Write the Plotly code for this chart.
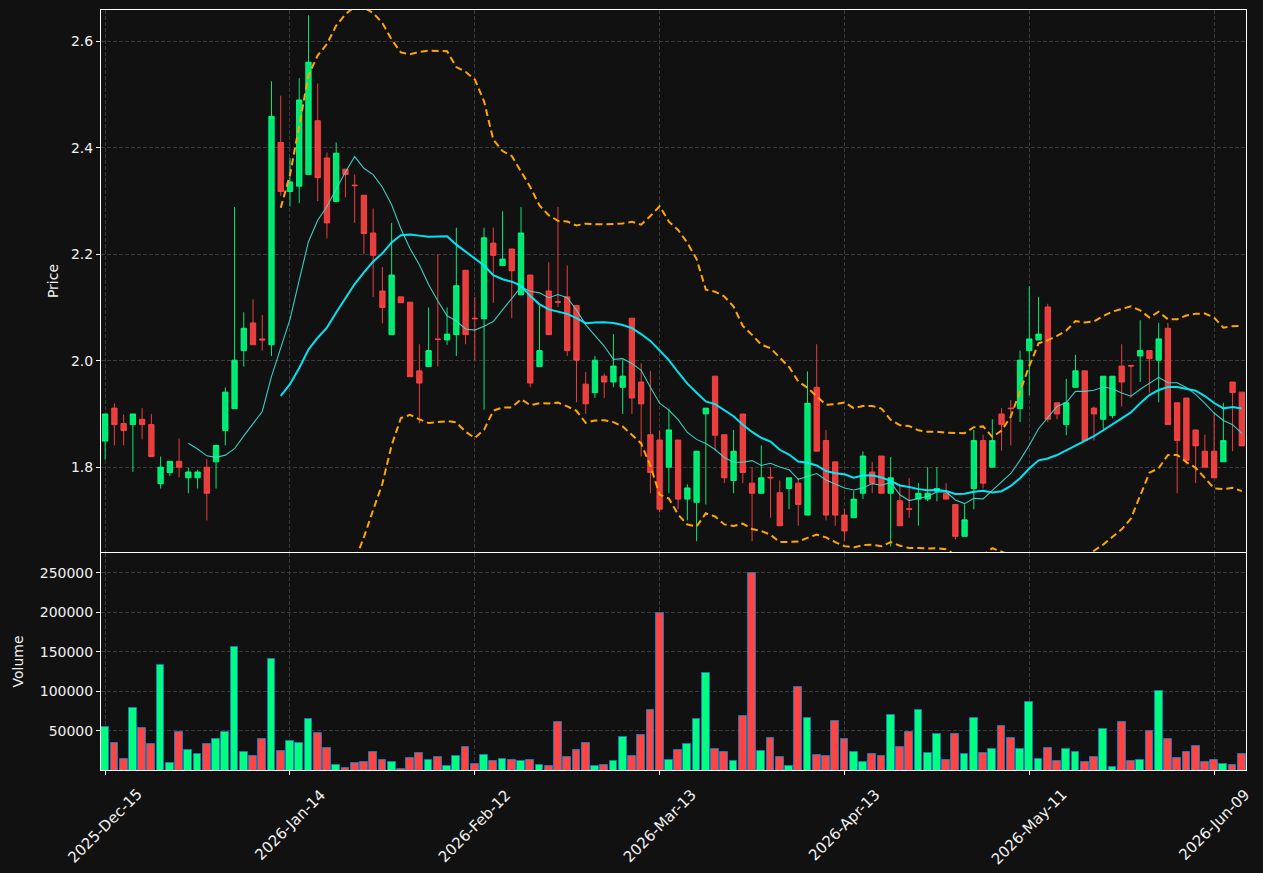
import plotly.graph_objects as go
import pandas as pd

# ---------------- data ----------------
opens = [1.849, 1.911, 1.882, 1.880, 1.890, 1.880, 1.769, 1.790, 1.811, 1.780,
         1.780, 1.800, 1.810, 1.869, 1.910, 2.019, 2.071, 2.041, 2.030, 2.410,
         2.318, 2.328, 2.350, 2.451, 2.381, 2.299, 2.360, 2.330, 2.311, 2.240,
         2.131, 2.049, 2.120, 2.110, 1.981, 1.989, 2.041, 2.039, 2.049, 2.170,
         2.080, 2.079, 2.221, 2.179, 2.210, 2.124, 2.161, 1.989, 2.131, 2.111,
         2.120, 2.104, 1.956, 1.940, 1.971, 1.960, 1.950, 2.080, 1.960, 1.861,
         1.851, 1.800, 1.851, 1.740, 1.734, 1.900, 1.971, 1.861, 1.775, 1.900,
         1.770, 1.751, 1.781, 1.752, 1.760, 1.770, 1.710, 1.950, 1.850, 1.810,
         1.710, 1.705, 1.751, 1.791, 1.821, 1.751, 1.737, 1.722, 1.740, 1.740,
         1.755, 1.751, 1.730, 1.670, 1.760, 1.850, 1.800, 1.900, 1.911, 1.910,
         2.019, 2.039, 2.101, 1.921, 1.880, 1.950, 1.981, 1.911, 1.890, 1.897,
         1.990, 1.991, 2.009, 2.019, 2.001, 2.061, 1.921, 1.930, 1.870, 1.830,
         1.830, 1.810, 1.960, 1.941]
highs = [1.900, 1.920, 1.899, 1.900, 1.911, 1.900, 1.820, 1.811, 1.854, 1.799,
         1.795, 1.815, 1.841, 1.950, 2.289, 2.091, 2.115, 2.086, 2.525, 2.498,
         2.381, 2.531, 2.649, 2.521, 2.391, 2.410, 2.360, 2.350, 2.311, 2.286,
         2.176, 2.259, 2.120, 2.110, 2.031, 2.100, 2.200, 2.100, 2.250, 2.170,
         2.120, 2.250, 2.250, 2.281, 2.210, 2.289, 2.161, 2.104, 2.185, 2.289,
         2.179, 2.104, 1.979, 2.009, 1.976, 2.050, 2.001, 2.080, 1.995, 1.981,
         1.869, 1.910, 1.851, 1.768, 1.830, 1.911, 1.971, 1.861, 1.870, 1.900,
         1.800, 1.841, 1.800, 1.775, 1.780, 1.780, 1.980, 2.031, 1.870, 1.810,
         1.721, 1.755, 1.830, 1.810, 1.821, 1.819, 1.765, 1.780, 1.770, 1.800,
         1.800, 1.770, 1.730, 1.730, 1.870, 1.861, 1.890, 1.911, 1.926, 2.019,
         2.140, 2.120, 2.107, 1.921, 1.966, 2.011, 1.981, 1.914, 1.971, 1.971,
         2.031, 1.991, 2.076, 2.019, 2.071, 2.071, 1.921, 1.930, 1.870, 1.861,
         1.901, 1.921, 1.960, 1.941]
lows = [1.814, 1.841, 1.841, 1.791, 1.852, 1.820, 1.760, 1.783, 1.781, 1.751,
        1.760, 1.700, 1.760, 1.841, 1.910, 1.989, 2.030, 2.019, 2.009, 2.310,
        2.290, 2.296, 2.350, 2.300, 2.230, 2.299, 2.307, 2.259, 2.200, 2.120,
        2.070, 2.049, 2.109, 1.970, 1.882, 1.989, 1.989, 2.030, 2.009, 2.031,
        2.001, 1.908, 2.109, 2.179, 2.080, 2.124, 1.950, 1.989, 2.049, 2.101,
        2.009, 1.922, 1.900, 1.930, 1.930, 1.950, 1.900, 1.900, 1.820, 1.751,
        1.715, 1.751, 1.721, 1.700, 1.661, 1.730, 1.831, 1.770, 1.751, 1.770,
        1.661, 1.751, 1.705, 1.690, 1.721, 1.690, 1.710, 1.830, 1.700, 1.690,
        1.661, 1.705, 1.740, 1.751, 1.751, 1.651, 1.690, 1.705, 1.690, 1.736,
        1.736, 1.740, 1.664, 1.670, 1.721, 1.760, 1.800, 1.831, 1.841, 1.885,
        1.935, 2.039, 1.885, 1.890, 1.860, 1.950, 1.850, 1.850, 1.872, 1.892,
        1.914, 1.930, 1.960, 1.940, 1.922, 1.880, 1.751, 1.805, 1.770, 1.800,
        1.780, 1.810, 1.830, 1.840]
closes = [1.900, 1.880, 1.869, 1.900, 1.880, 1.820, 1.800, 1.811, 1.800, 1.791,
          1.791, 1.751, 1.841, 1.941, 2.001, 2.061, 2.030, 2.039, 2.459, 2.318,
          2.336, 2.490, 2.561, 2.344, 2.259, 2.390, 2.350, 2.329, 2.239, 2.198,
          2.100, 2.161, 2.109, 1.970, 1.958, 2.019, 2.040, 2.050, 2.141, 2.049,
          2.079, 2.231, 2.198, 2.191, 2.169, 2.240, 1.958, 2.019, 2.049, 2.110,
          2.019, 2.001, 1.919, 2.001, 1.960, 1.990, 1.971, 1.930, 1.919, 1.790,
          1.721, 1.870, 1.740, 1.761, 1.830, 1.911, 1.860, 1.780, 1.830, 1.790,
          1.751, 1.780, 1.780, 1.690, 1.780, 1.730, 1.920, 1.830, 1.710, 1.710,
          1.680, 1.740, 1.821, 1.770, 1.751, 1.780, 1.690, 1.721, 1.751, 1.751,
          1.760, 1.740, 1.670, 1.701, 1.850, 1.770, 1.850, 1.880, 1.910, 2.001,
          2.041, 2.050, 1.890, 1.900, 1.921, 1.981, 1.850, 1.900, 1.971, 1.971,
          1.960, 1.990, 2.019, 2.004, 2.041, 1.880, 1.850, 1.813, 1.840, 1.800,
          1.780, 1.850, 1.940, 1.840]
volumes = [55000, 35000, 14400, 79000, 53800, 33600, 133000, 9700, 48700, 26100,
           21100, 33600, 39900, 48700, 155700, 23600, 18600, 39900, 140600, 24800,
           37400, 34900, 65100, 47500, 28600, 7200, 3500, 8900, 11000, 23600,
           13500, 11000, 2200, 16000, 22300, 13500, 17300, 6000, 18600, 29900,
           8500, 19800, 12300, 14800, 13500, 12300, 13500, 7200, 6000, 61300,
           17300, 26100, 34900, 6000, 7200, 12300, 42500, 18600, 45000, 76400,
           199700, 13500, 26100, 33600, 65100, 123000, 27400, 23600, 12300, 68900,
           250000, 24800, 41200, 17300, 6000, 105300, 66400, 19800, 18600, 62600,
           39900, 23600, 11000, 21100, 18600, 70100, 29900, 48700, 76400, 22300,
           46200, 13500, 46200, 21100, 66400, 22300, 27400, 56300, 41200, 27400,
           86500, 14800, 28600, 12300, 27400, 23600, 11000, 17300, 52500, 4700,
           61300, 12300, 13500, 50000, 100300, 39900, 16000, 23600, 31100, 11000,
           13500, 8500, 7200, 21100]

tick_positions = [0, 20, 40, 60, 80, 100, 120]
tick_labels = ["2025-Dec-15", "2026-Jan-14", "2026-Feb-12", "2026-Mar-13",
               "2026-Apr-13", "2026-May-11", "2026-Jun-09"]
price_ticks = [1.8, 2.0, 2.2, 2.4, 2.6]
volume_ticks = [50000, 100000, 150000, 200000, 250000]

# ---------------- derived indicators ----------------
n = len(closes)
xs = list(range(n))
cs = pd.Series(closes)
ma10 = cs.rolling(10).mean()
ma20 = cs.rolling(20).mean()
sd20 = cs.rolling(20).std(ddof=0)
bb_up = ma20 + 2 * sd20
bb_lo = ma20 - 2 * sd20


def clean(s):
    return [None if pd.isna(v) else float(v) for v in s]


UP = "#00ff7f"
DOWN = "#ff4444"
UP_A = "rgba(0,255,127,0.9)"
DOWN_A = "rgba(255,68,68,0.9)"
BG = "#111111"
GRID = "#3a3a3a"
TXT = "#f2f2f2"

vol_colors = [UP if c >= o else DOWN for o, c in zip(opens, closes)]

fig = go.Figure()

fig.add_trace(go.Candlestick(
    x=xs, open=opens, high=highs, low=lows, close=closes,
    increasing=dict(line=dict(color=UP_A, width=1), fillcolor=UP_A),
    decreasing=dict(line=dict(color=DOWN_A, width=1), fillcolor=DOWN_A),
    whiskerwidth=0, showlegend=False, xaxis="x", yaxis="y", hoverinfo="skip"))

fig.add_trace(go.Scatter(x=xs, y=clean(ma10), mode="lines",
                         line=dict(color="rgba(64,224,208,0.9)", width=1.1),
                         showlegend=False, xaxis="x", yaxis="y"))
fig.add_trace(go.Scatter(x=xs, y=clean(ma20), mode="lines",
                         line=dict(color="rgba(0,240,255,0.95)", width=2),
                         showlegend=False, xaxis="x", yaxis="y"))
for band in (bb_up, bb_lo):
    fig.add_trace(go.Scatter(x=xs, y=clean(band), mode="lines",
                             line=dict(color="#ffa500", width=2, dash="7px,4px"),
                             showlegend=False, xaxis="x", yaxis="y"))

fig.add_trace(go.Bar(x=xs, y=volumes, width=0.84,
                     marker=dict(color=vol_colors, line=dict(color="#1f77b4", width=1)),
                     showlegend=False, xaxis="x2", yaxis="y2"))

axis_common = dict(showline=True, linecolor="white", linewidth=1, mirror=True,
                   showgrid=True, gridcolor=GRID, gridwidth=1, griddash="4px,2px",
                   zeroline=False, ticks="outside", ticklen=4, tickcolor="white",
                   tickfont=dict(size=14, color=TXT))

xr = [-0.45, n - 1 + 0.45]
top_h = 873 - 10 - 103
vol_frac = 217 / top_h

fig.update_layout(
    width=1263, height=873,
    margin=dict(l=101, r=17, t=10, b=103),
    paper_bgcolor=BG, plot_bgcolor=BG,
    font=dict(family="DejaVu Sans", size=14, color=TXT),
    boxgap=0.42, boxgroupgap=0,
    bargap=0,
    xaxis=dict(axis_common, domain=[0, 1], anchor="y", range=xr,
               tickvals=tick_positions, showticklabels=False,
               rangeslider=dict(visible=False), ticklen=0),
    yaxis=dict(axis_common, domain=[vol_frac + 0.0013, 1], anchor="x",
               range=[1.6406, 2.659], tickvals=price_ticks, tickformat=".1f",
               title=dict(text="Price", font=dict(size=14, color=TXT), standoff=9)),
    xaxis2=dict(axis_common, domain=[0, 1], anchor="y2", range=xr, matches="x",
                tickvals=tick_positions, showticklabels=False),
    yaxis2=dict(axis_common, domain=[0, vol_frac], anchor="x2",
                range=[660, 275000], tickvals=volume_ticks, tickformat="d",
                title=dict(text="Volume", font=dict(size=14, color=TXT), standoff=12)),
)

for pos, lab in zip(tick_positions, tick_labels):
    fig.add_annotation(x=pos, xref="x2", y=-13 / top_h, yref="paper",
                       text=lab, showarrow=False, textangle=-45,
                       xanchor="center", yanchor="top",
                       font=dict(size=15, color=TXT))

fig.write_html("out.html")
